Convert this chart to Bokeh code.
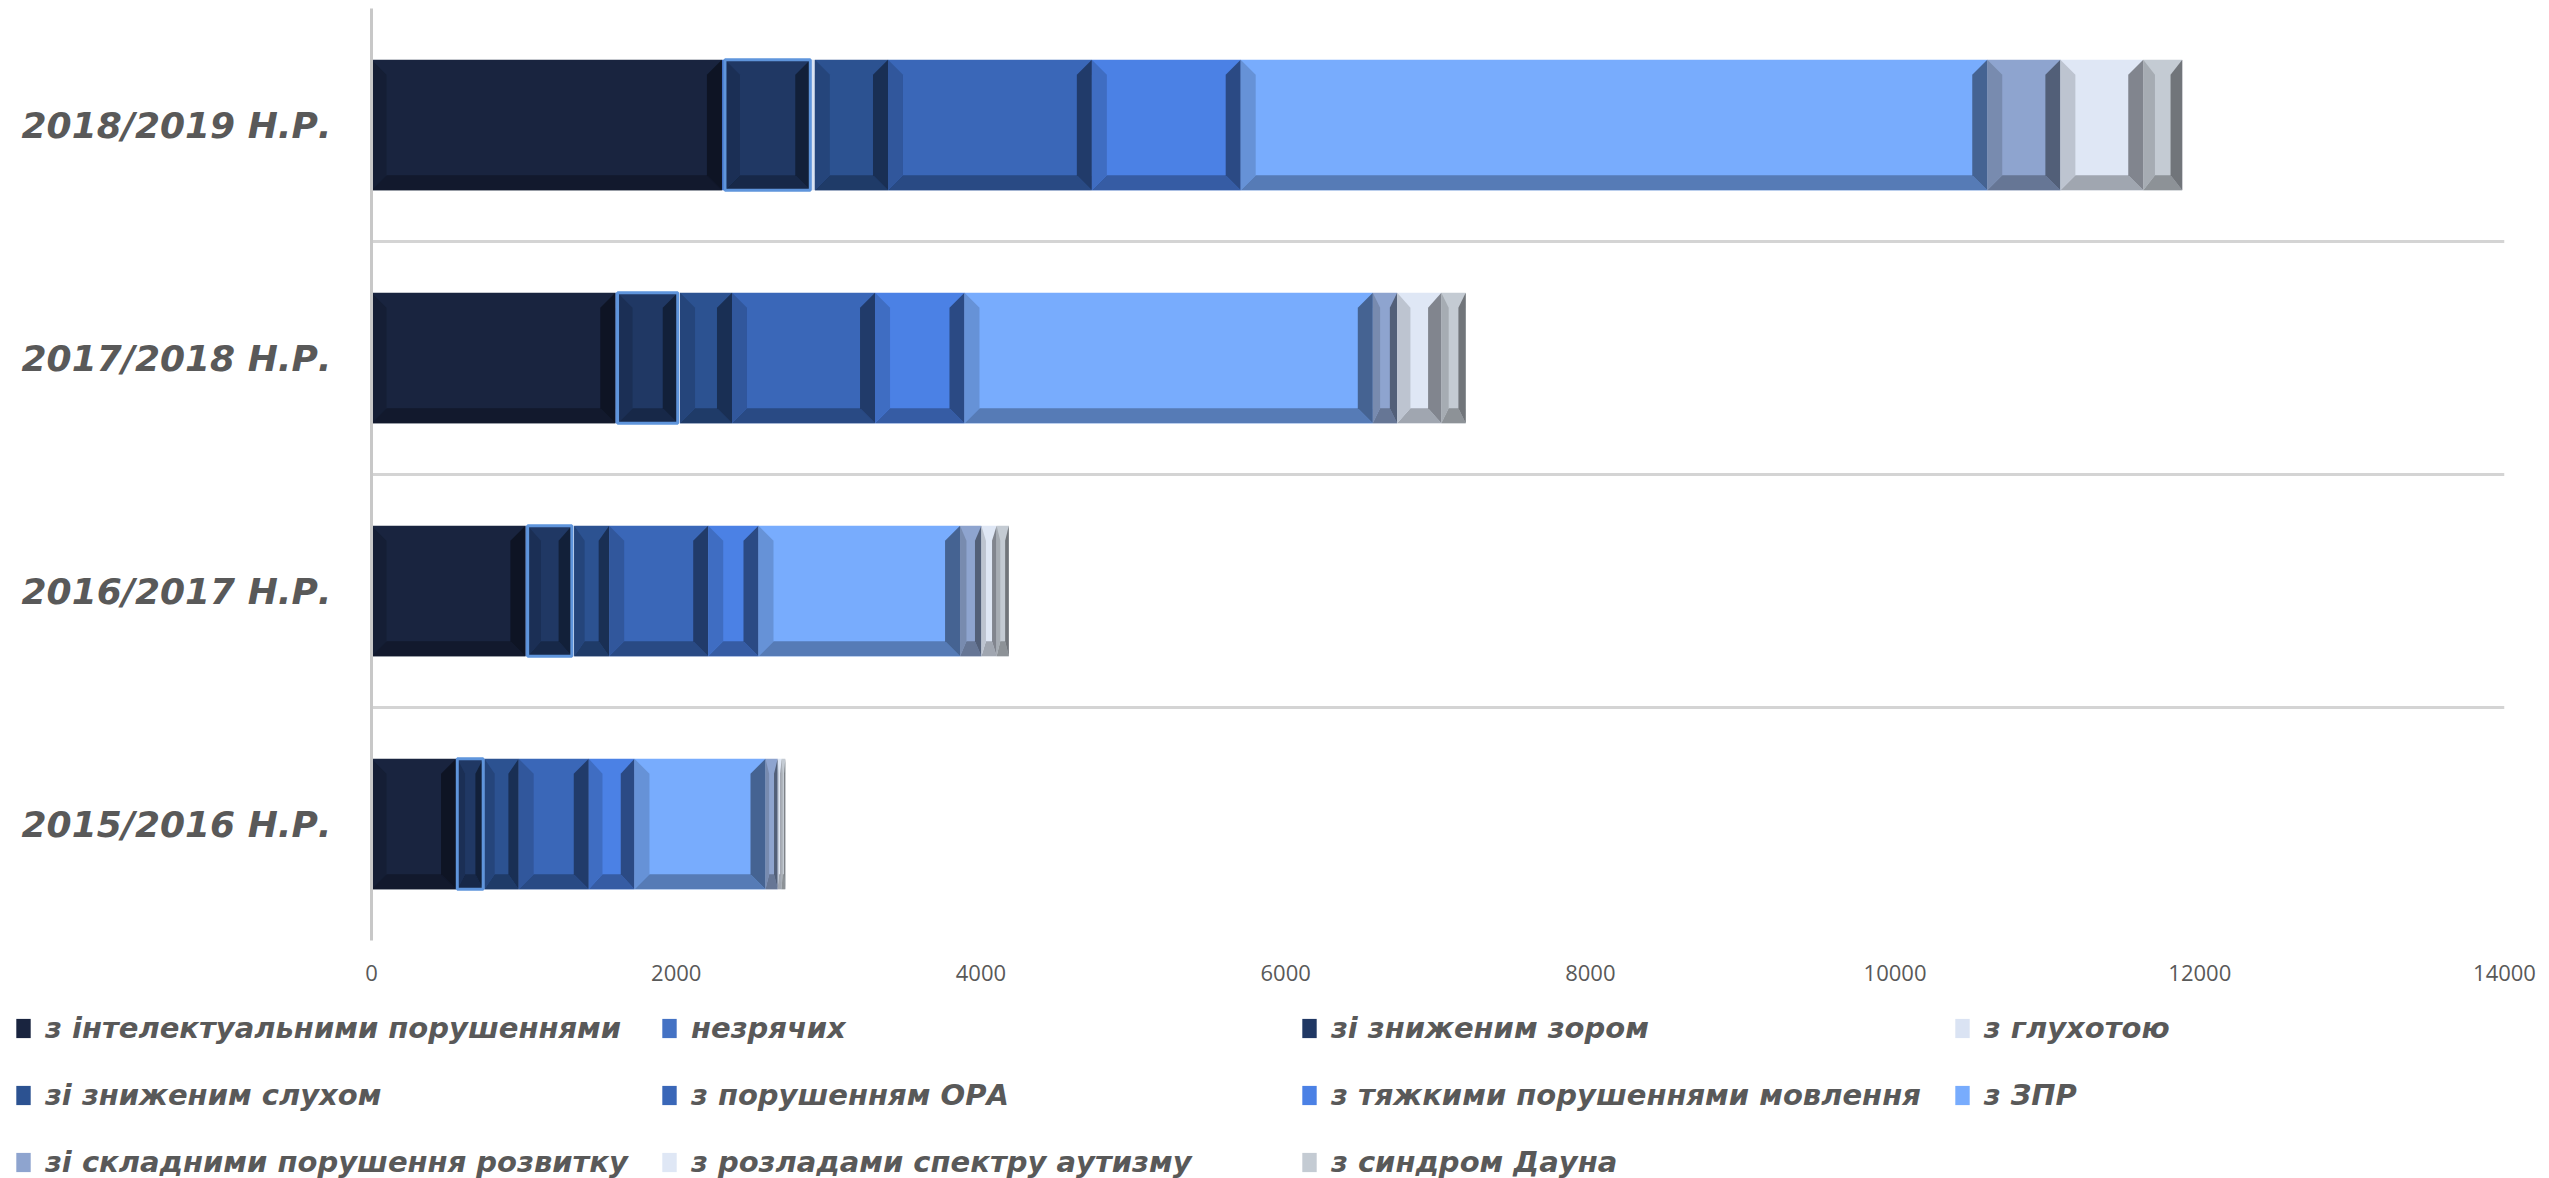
import numpy as np
from bokeh.plotting import figure
from bokeh.layouts import column
from bokeh.models import ColumnDataSource, Range1d, FixedTicker, Legend, LegendItem
from bokeh.embed import file_html
from bokeh.resources import INLINE

# ---------------- data ----------------
years = ["2015/2016 Н.Р.", "2016/2017 Н.Р.", "2017/2018 Н.Р.", "2018/2019 Н.Р."]

series_names = [
    "з інтелектуальними порушеннями",
    "незрячих",
    "зі зниженим зором",
    "з глухотою",
    "зі зниженим слухом",
    "з порушенням ОРА",
    "з тяжкими порушеннями мовлення",
    "з ЗПР",
    "зі складними порушення розвитку",
    "з розладами спектру аутизму",
    "з синдром Дауна",
]

intellectual = [555, 1010, 1600, 2300]
blind = [8, 15, 15, 20]
low_vision = [170, 290, 395, 560]
deaf = [8, 15, 15, 30]
hard_of_hearing = [225, 230, 341, 480]
musculoskeletal = [460, 650, 939, 1338]
speech = [300, 330, 587, 977]
developmental_delay = [860, 1323, 2680, 4900]
complex_disorders = [80, 140, 160, 480]
autism = [25, 100, 290, 544]
down_syndrome = [25, 80, 160, 256]

x_ticks = [0, 2000, 4000, 6000, 8000, 10000, 12000, 14000]

series_values = [intellectual, blind, low_vision, deaf, hard_of_hearing, musculoskeletal,
                 speech, developmental_delay, complex_disorders, autism, down_syndrome]

# ---------------- style ----------------
face_colors = ["#19243f", "#4472c4", "#203864", "#dae3f3", "#2c5291", "#3a67b8",
               "#4b81e5", "#78acfd", "#8ea4cf", "#dfe7f5", "#c4cbd3"]
beveled = [True, False, True, False, True, True, True, True, True, True, True]
outlined = [False, False, True, False, False, False, False, False, False, False, False]
TEXT = "#595959"
LABEL_FONT = "DejaVu Sans"
TICK_FONT = "Open Sans"

W = 2549
H_MAIN, H_LEG = 994, 184
BL, BR, BT = 371, 45, 8
FRAME_H = 932
BB = H_MAIN - BT - FRAME_H
XMAX = 14000
frame_w = W - BL - BR
ncat = len(years)
half = 0.28
bev_x = 15 * XMAX / frame_w          # 15 px bevel in data units
bev_y = 15 * ncat / FRAME_H


def shade(hexc, f):
    r, g, b = int(hexc[1:3], 16), int(hexc[3:5], 16), int(hexc[5:7], 16)
    return "#%02x%02x%02x" % (int(r * f), int(g * f), int(b * f))


p = figure(width=W, height=H_MAIN, x_range=Range1d(0, XMAX), y_range=Range1d(0, ncat),
           output_backend="svg", toolbar_location=None,
           min_border_left=BL, min_border_right=BR, min_border_top=BT, min_border_bottom=BB,
           outline_line_color=None, background_fill_color="white", border_fill_color="white")

centers = np.arange(ncat) + 0.5
cum = np.zeros(ncat)
bx, by, bc = [], [], []
outline_src = []
for vals, col, bev, outl in zip(series_values, face_colors, beveled, outlined):
    v = np.array(vals, dtype=float)
    left = cum.copy()
    right = cum + v
    cum = right
    src = ColumnDataSource(dict(left=left, right=right, bottom=centers - half, top=centers + half))
    p.quad(left="left", right="right", bottom="bottom", top="top", source=src,
           fill_color=col, line_color=None)
    if outl:
        outline_src.append(src)
    if bev:
        for L, R, c in zip(left, right, centers):
            B, T = c - half, c + half
            w = min(bev_x, (R - L) * 0.3)
            h = bev_y
            bx.append([L, L + w, R - w, R]); by.append([B, B + h, B + h, B]); bc.append(shade(col, 0.72))
            bx.append([L, L + w, L + w, L]); by.append([T, T - h, B + h, B]); bc.append(shade(col, 0.85))
            bx.append([R - w, R, R, R - w]); by.append([T - h, T, B, B + h]); bc.append(shade(col, 0.58))

p.patches(xs="xs", ys="ys", fill_color="c", line_color=None,
          source=ColumnDataSource(dict(xs=bx, ys=by, c=bc)))
for src in outline_src:
    p.quad(left="left", right="right", bottom="bottom", top="top", source=src,
           fill_color=None, line_color="#5f95dc", line_width=3)

# ---------------- axes & grid ----------------
p.xgrid.visible = False
p.ygrid.ticker = FixedTicker(ticks=list(range(ncat + 1)))
p.ygrid.grid_line_color = "#d4d4d4"
p.ygrid.grid_line_width = 3

p.xaxis.ticker = FixedTicker(ticks=x_ticks)
p.xaxis.major_label_overrides = {float(t): str(t) for t in x_ticks}
p.xaxis.axis_line_color = None
p.xaxis.major_tick_line_color = None
p.xaxis.minor_tick_line_color = None
p.xaxis.major_tick_out = 0
p.xaxis.major_label_standoff = 24
p.xaxis.major_label_text_font = TICK_FONT
p.xaxis.major_label_text_font_size = "22px"
p.xaxis.major_label_text_color = TEXT

p.yaxis.ticker = FixedTicker(ticks=list(centers))
p.yaxis.major_label_overrides = {float(c): y for c, y in zip(centers, years)}
p.yaxis.axis_line_color = "#c8c8c8"
p.yaxis.axis_line_width = 3
p.yaxis.major_tick_line_color = None
p.yaxis.minor_tick_line_color = None
p.yaxis.major_tick_out = 0
p.yaxis.major_label_standoff = 40
p.yaxis.major_label_text_font = LABEL_FONT
p.yaxis.major_label_text_font_style = "bold italic"
p.yaxis.major_label_text_font_size = "36px"
p.yaxis.major_label_text_color = TEXT

# ---------------- legend (separate strip below) ----------------
pl = figure(width=W, height=H_LEG, x_range=Range1d(0, 1), y_range=Range1d(0, 1),
            output_backend="svg", toolbar_location=None, x_axis_type=None, y_axis_type=None,
            min_border_left=0, min_border_right=0, min_border_top=0, min_border_bottom=0,
            outline_line_color=None, background_fill_color="white", border_fill_color="white")
for fig in (p, pl):
    try:
        fig.frame_align = False
    except Exception:
        pass
pl.xgrid.visible = False
pl.ygrid.visible = False
legend_renderers = []
for col in face_colors:
    legend_renderers.append(pl.quad(left=[2], right=[3], bottom=[2], top=[3],
                                    fill_color=col, line_color=None))
items = [LegendItem(label=n, renderers=[r]) for n, r in zip(series_names, legend_renderers)]
legend = Legend(items=items, orientation="horizontal", ncols=4,
                location=(14, -1),
                label_text_font=LABEL_FONT, label_text_font_style="bold italic",
                label_text_font_size="29px", label_text_color=TEXT,
                glyph_width=18, glyph_height=24, label_standoff=13,
                label_width=577, label_height=35, spacing=32,
                padding=0, margin=0, border_line_color=None, background_fill_alpha=0)
pl.add_layout(legend)

layout = column(p, pl, spacing=0)
open("out.html", "w").write(file_html(layout, INLINE))
